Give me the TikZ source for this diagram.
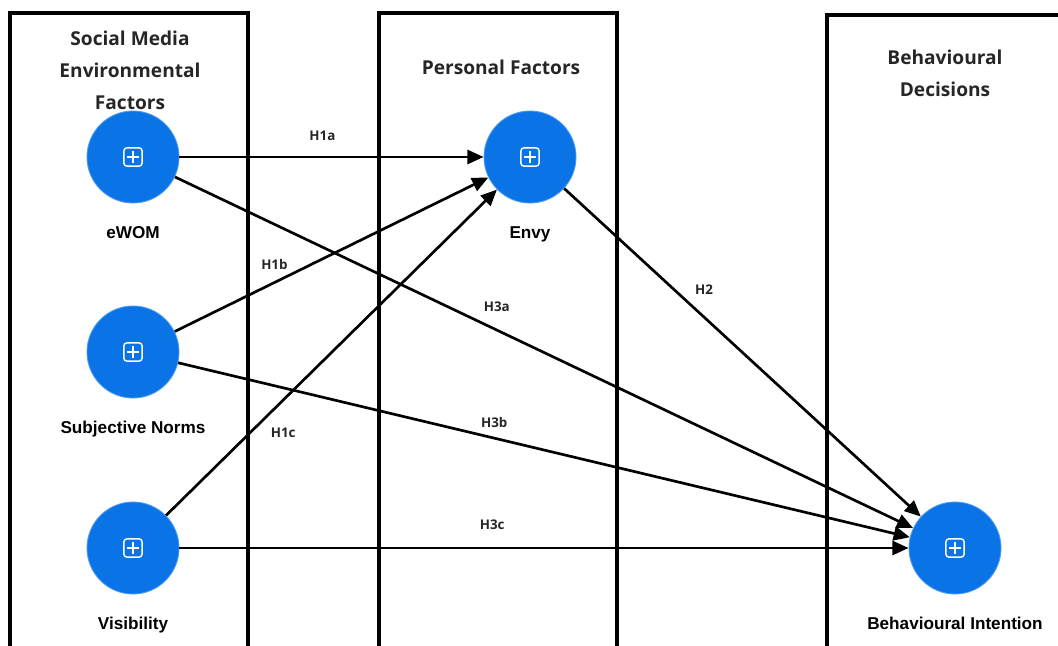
\documentclass[tikz,border=0pt]{standalone}
\usepackage{fontspec}
\setmainfont{Liberation Sans}
\newfontfamily\headfont{Open Sans}
\usepackage{tikz}
\usetikzlibrary{arrows.meta, positioning}
\definecolor{nodeblue}{HTML}{0A73E6}
\definecolor{rimblue}{HTML}{4C9BF0}
\definecolor{headgray}{HTML}{262626}
\tikzset{
  latent/.style={circle, minimum size=2.3cm, inner sep=0pt, fill=nodeblue, draw=rimblue, line width=0.6pt,
    path picture={
      \draw[white, line width=1pt, rounded corners=2.2pt] ([shift={(-6.5pt,-6.5pt)}]path picture bounding box.center) rectangle ++(13pt,13pt);
      \draw[white, line width=1pt] ([xshift=-4pt]path picture bounding box.center) -- ++(8pt,0pt)
        ([yshift=-4pt]path picture bounding box.center) -- ++(0pt,8pt);
    }},
  varname/.style={font=\bfseries\fontsize{12.2}{14}\selectfont, inner sep=0pt, text height=9pt, text depth=2.5pt},
  hyp/.style={font=\headfont\bfseries\fontsize{9.5}{11}\selectfont, text=headgray, inner sep=1pt},
  heading/.style={font=\headfont\bfseries\fontsize{13.6}{22.7}\selectfont, text=headgray, align=center},
  panel/.style={line width=2.8pt},
  pathline/.style={line width=1.9pt, -{Triangle[length=11.5pt,width=10pt]}}
}
\begin{document}
\begin{tikzpicture}[x=0.025cm, y=-0.025cm]
    \useasboundingbox (0,0) rectangle (1058,645);
    % Riquadri
    \draw[panel] (10,650) -- (10,13) -- (248,13) -- (248,650);
    \draw[panel] (379,650) -- (379,13) -- (617,13) -- (617,650);
    \draw[panel] (827,650) -- (827,15) -- (1065,15);
    % Titoli
    \node[heading] (headsoc) at (130,70) {Social Media\\Environmental\\Factors};
    \node[heading] (headpers) at (501,67) {Personal Factors};
    \node[heading] (headbeh) at (945,73) {Behavioural\\Decisions};
    % Costrutti
    \node[latent] (ewom) at (133,157) {};
    \node[latent] (norms) at (133,352) {};
    \node[latent] (visib) at (133,548) {};
    \node[latent] (envy) at (530,157) {};
    \node[latent] (intent) at (955,548) {};
    \node[varname, below=16pt of ewom] (ewomlab) {eWOM};
    \node[varname, below=16pt of norms] (normslab) {Subjective Norms};
    \node[varname, below=16pt of visib] (visiblab) {Visibility};
    \node[varname, below=16pt of envy] (envylab) {Envy};
    \node[varname, below=16pt of intent] (intentlab) {Behavioural Intention};
    % Ipotesi
    \draw[pathline] (ewom) -- (envy) node[hyp, pos=0.47, above=10pt] (h1a) {H1a};
    \draw[pathline] (norms) -- (envy) node[hyp, pos=0.318, above=7.5pt] (h1b) {H1b};
    \draw[pathline] (visib) -- (envy) node[hyp, pos=0.354, below=18pt] (h1c) {H1c};
    \draw[pathline] (envy) -- (intent) node[hyp, pos=0.392, above=14pt] (h2) {H2};
    \draw[pathline] (ewom) -- (intent) node[hyp, pos=0.436, above=11pt] (h3a) {H3a};
    \draw[pathline] (norms) -- (intent) node[hyp, pos=0.432, above=5.5pt] (h3b) {H3b};
    \draw[pathline] (visib) -- (intent) node[hyp, pos=0.429, above=11pt] (h3c) {H3c};
\end{tikzpicture}
\end{document}
